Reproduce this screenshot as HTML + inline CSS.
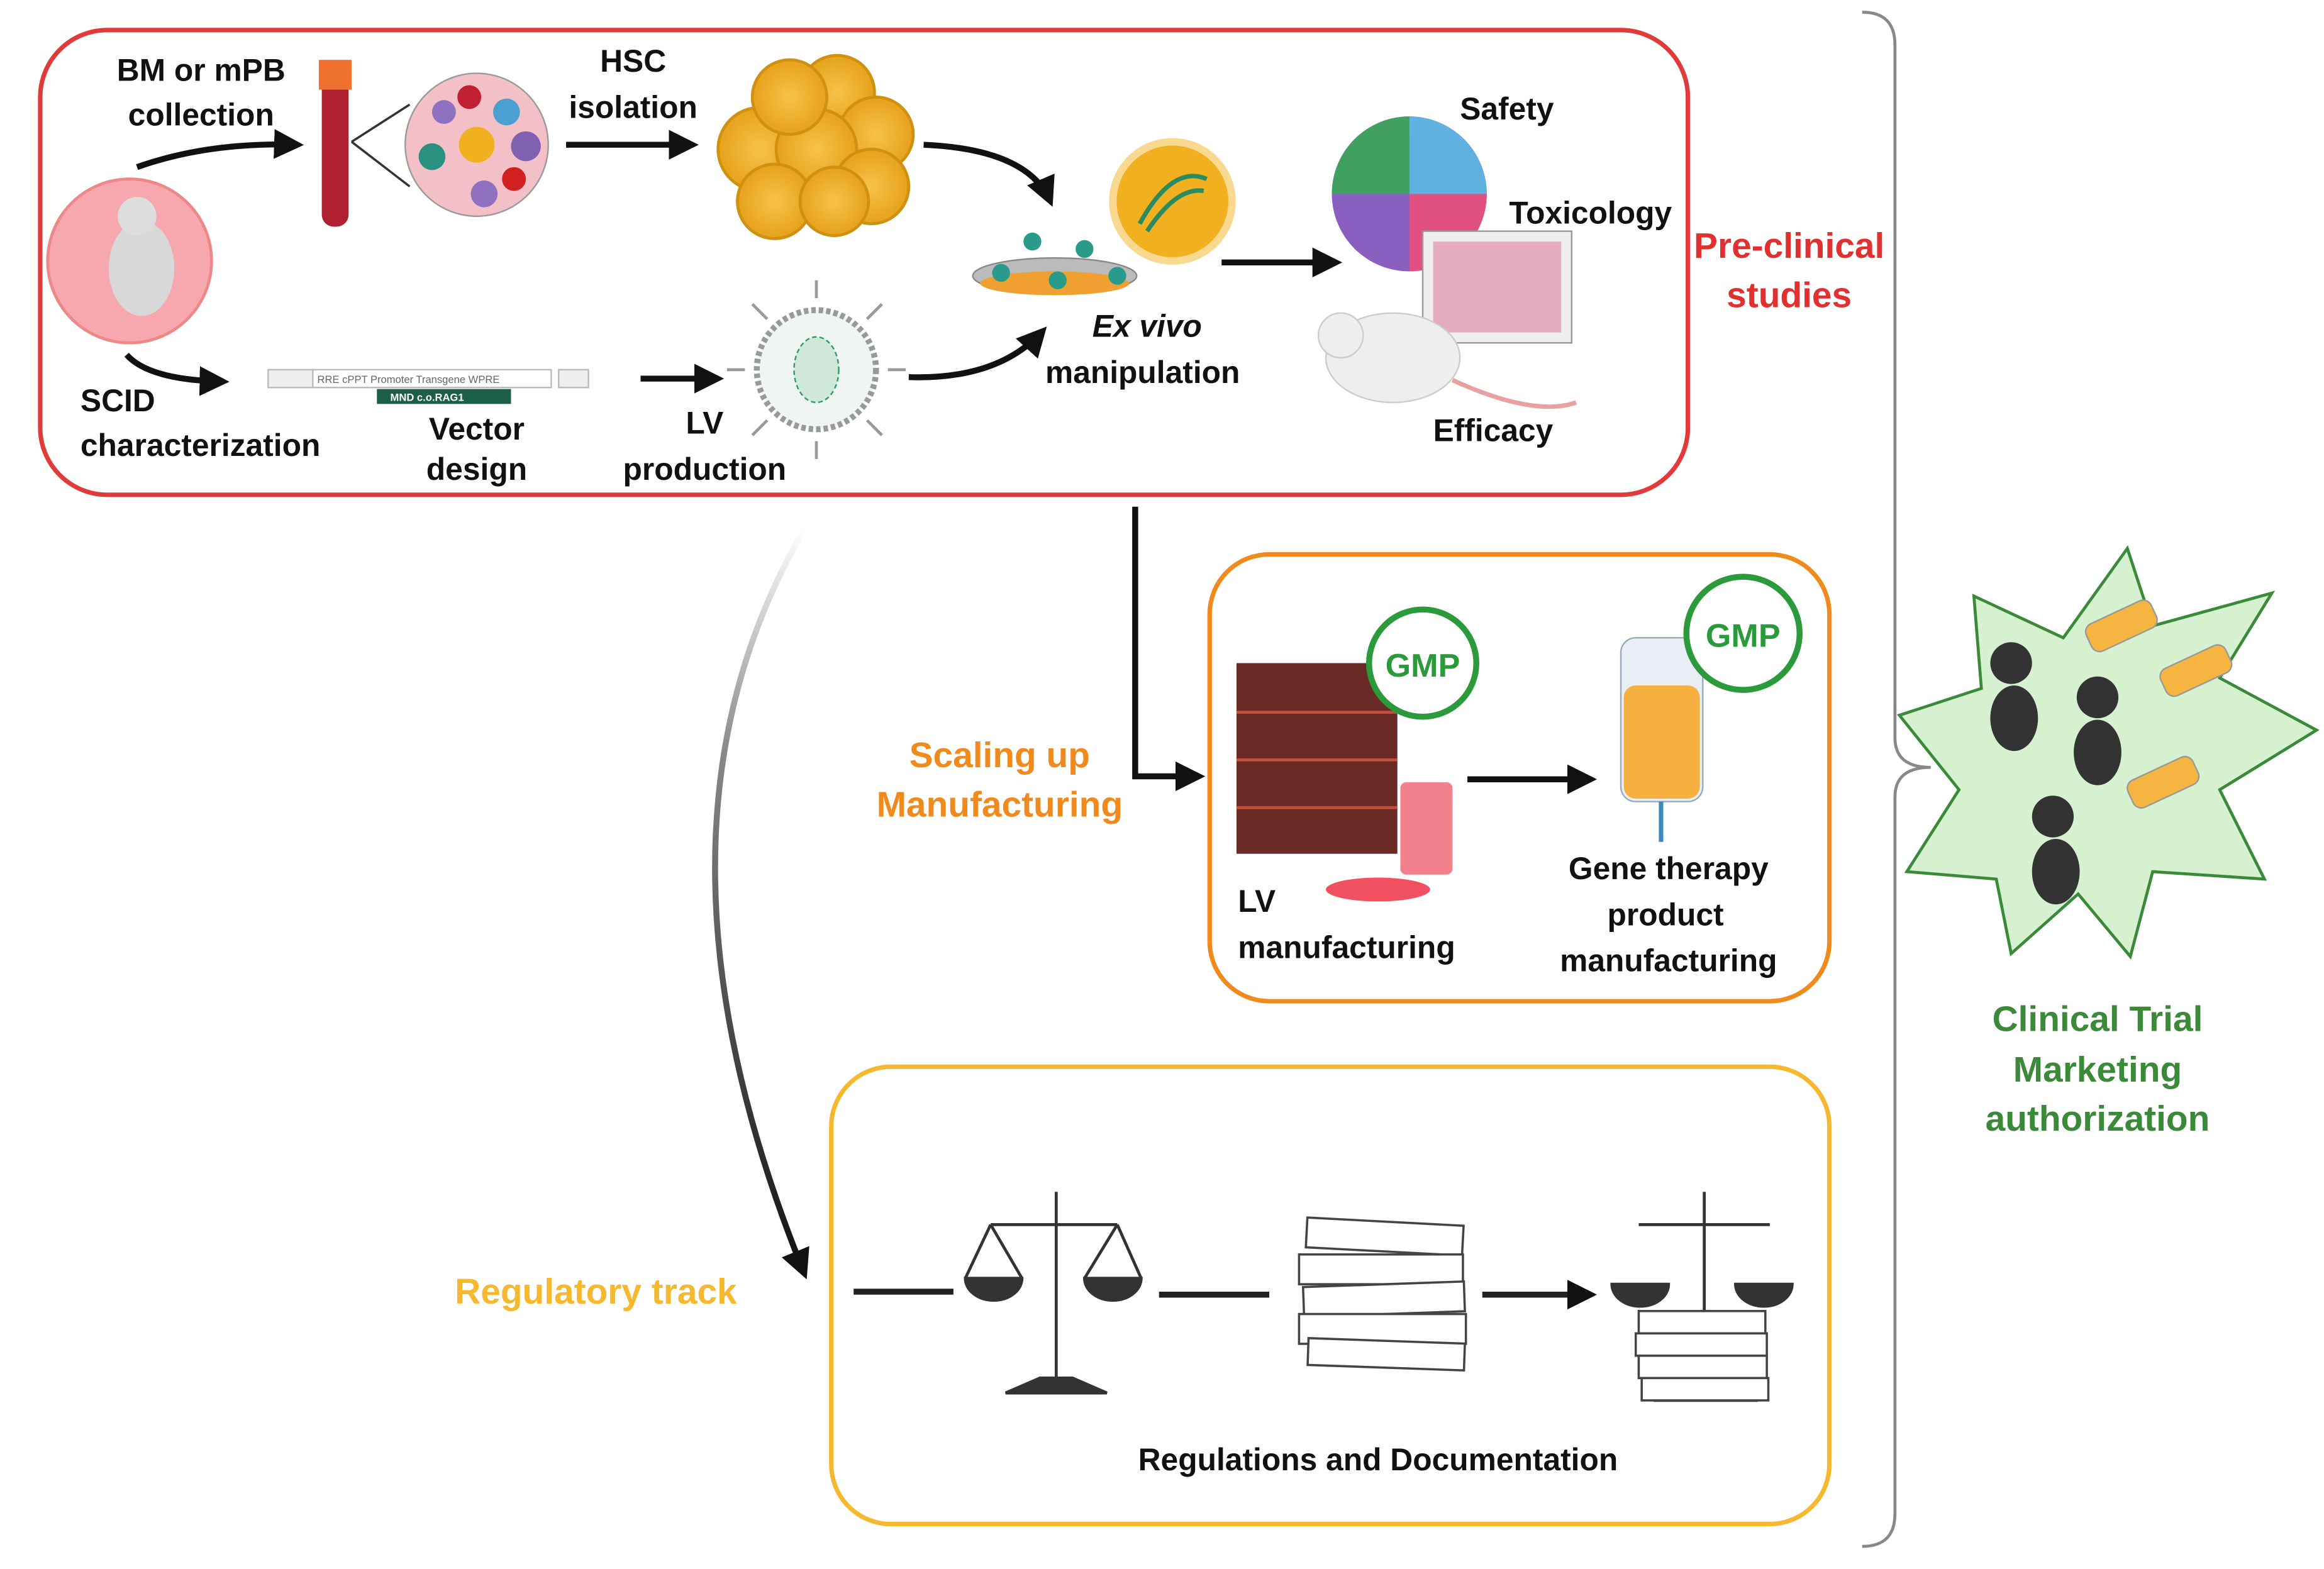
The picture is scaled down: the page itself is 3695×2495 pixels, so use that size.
<!DOCTYPE html>
<html><head><meta charset="utf-8"><style>
html,body{margin:0;padding:0;background:#fff;}
svg{display:block;}
text{font-family:"Liberation Sans",sans-serif;font-weight:bold;}
</style></head><body>
<svg width="3695" height="2495" viewBox="0 0 1560 1053" xmlns="http://www.w3.org/2000/svg">
<defs>
<marker id="ah" viewBox="0 0 10 10" refX="8" refY="5" markerWidth="5" markerHeight="5" orient="auto"><path d="M0,0 L10,5 L0,10 z" fill="#111"/></marker>
<linearGradient id="fade" x1="0" y1="0" x2="0" y2="1"><stop offset="0" stop-color="#fff"/><stop offset="0.3" stop-color="#888"/><stop offset="1" stop-color="#111"/></linearGradient>
<radialGradient id="cellg"><stop offset="0" stop-color="#f7c24a"/><stop offset="1" stop-color="#e6a21a"/></radialGradient>
</defs>
<rect width="1560" height="1053" fill="#fff"/>

<!-- boxes -->
<rect x="27" y="20" width="1106" height="312" rx="45" fill="none" stroke="#e03a3a" stroke-width="3"/>
<rect x="812" y="372" width="416" height="300" rx="40" fill="none" stroke="#f08a1c" stroke-width="3"/>
<rect x="558" y="716" width="670" height="307" rx="40" fill="none" stroke="#f5b82e" stroke-width="3"/>

<!-- bracket -->
<path d="M1250,8 Q1272,8 1272,30 L1272,495 Q1272,515 1296,515 Q1272,515 1272,535 L1272,1016 Q1272,1038 1250,1038" fill="none" stroke="#888" stroke-width="2"/>

<!-- star -->
<polygon points="1428,368 1445,420 1525,398 1490,455 1555,490 1490,530 1520,590 1445,585 1430,642 1395,600 1350,640 1340,590 1280,585 1315,530 1275,480 1330,462 1325,400 1385,428" fill="#d6f1d0" stroke="#3a8a3a" stroke-width="2"/>
<g fill="#333">
<circle cx="1350" cy="445" r="14"/><ellipse cx="1352" cy="482" rx="16" ry="22"/>
<circle cx="1408" cy="468" r="14"/><ellipse cx="1408" cy="505" rx="16" ry="22"/>
<circle cx="1378" cy="548" r="14"/><ellipse cx="1380" cy="585" rx="16" ry="22"/>
</g>
<g fill="#f5b540" stroke="#999" stroke-width="1">
<rect x="1400" y="410" width="48" height="20" rx="6" transform="rotate(-25 1424 420)"/>
<rect x="1450" y="440" width="48" height="20" rx="6" transform="rotate(-25 1474 450)"/>
<rect x="1428" y="515" width="48" height="20" rx="6" transform="rotate(-25 1452 525)"/>
</g>
<g font-size="24" fill="#3a8a3a" text-anchor="middle">
<text x="1408" y="692">Clinical Trial</text>
<text x="1408" y="726">Marketing</text>
<text x="1408" y="759">authorization</text>
</g>

<!-- Pre-clinical labels -->
<g font-size="24" fill="#e03030" text-anchor="middle"><text x="1201" y="173">Pre-clinical</text><text x="1201" y="206">studies</text></g>
<g font-size="21" fill="#111">
<text x="135" y="54" text-anchor="middle">BM or mPB</text>
<text x="135" y="84" text-anchor="middle">collection</text>
<text x="425" y="48" text-anchor="middle">HSC</text>
<text x="425" y="79" text-anchor="middle">isolation</text>
<text x="54" y="276">SCID</text>
<text x="54" y="306">characterization</text>
<text x="320" y="295" text-anchor="middle">Vector</text>
<text x="320" y="322" text-anchor="middle">design</text>
<text x="473" y="291" text-anchor="middle">LV</text>
<text x="473" y="322" text-anchor="middle">production</text>
<text x="770" y="226" text-anchor="middle" font-style="italic">Ex vivo</text>
<text x="767" y="257" text-anchor="middle">manipulation</text>
<text x="980" y="80">Safety</text>
<text x="1013" y="150">Toxicology</text>
<text x="962" y="296">Efficacy</text>
</g>

<!-- baby bubble -->
<circle cx="87" cy="175" r="55" fill="#f7a8ae" stroke="#e88" stroke-width="2"/>
<ellipse cx="95" cy="180" rx="22" ry="32" fill="#d8d8d8"/><circle cx="92" cy="145" r="13" fill="#ddd"/>
<!-- tube -->
<rect x="216" y="42" width="18" height="110" rx="8" fill="#b02030"/><rect x="214" y="40" width="22" height="20" fill="#f07030"/>
<line x1="236" y1="95" x2="275" y2="70" stroke="#333" stroke-width="1.5"/><line x1="236" y1="95" x2="275" y2="125" stroke="#333" stroke-width="1.5"/>
<circle cx="320" cy="97" r="48" fill="#f4c0c8" stroke="#999"/>
<circle cx="320" cy="97" r="12" fill="#f0b020"/><circle cx="340" cy="75" r="9" fill="#4aa0d0"/><circle cx="353" cy="98" r="10" fill="#8060b0"/><circle cx="298" cy="75" r="8" fill="#9070c0"/><circle cx="290" cy="105" r="9" fill="#2a9080"/><circle cx="325" cy="130" r="9" fill="#9070c0"/><circle cx="315" cy="65" r="8" fill="#c02030"/><circle cx="345" cy="120" r="8" fill="#d02020"/>
<!-- cells cluster -->
<g fill="url(#cellg)" stroke="#d09010" stroke-width="2">
<circle cx="510" cy="100" r="28"/><circle cx="562" cy="62" r="25"/><circle cx="588" cy="90" r="25"/><circle cx="548" cy="100" r="27"/><circle cx="585" cy="125" r="25"/><circle cx="520" cy="135" r="25"/><circle cx="560" cy="135" r="23"/><circle cx="530" cy="65" r="25"/>
</g>
<!-- dna bubble -->
<circle cx="787" cy="135" r="40" fill="#f0b020" stroke="#f9d890" stroke-width="5"/>
<path d="M765,150 Q787,110 810,120 M770,155 Q790,125 808,128" stroke="#2a8a60" stroke-width="3" fill="none"/>
<!-- dish -->
<ellipse cx="708" cy="185" rx="55" ry="12" fill="#bbb" stroke="#888"/><ellipse cx="708" cy="190" rx="50" ry="8" fill="#f0a030"/>
<g fill="#2a9a8a"><circle cx="693" cy="162" r="6"/><circle cx="728" cy="167" r="6"/><circle cx="672" cy="183" r="6"/><circle cx="710" cy="188" r="6"/><circle cx="750" cy="185" r="6"/></g>
<!-- pie -->
<circle cx="946" cy="130" r="52" fill="#8a5fc0"/>
<path d="M946,130 L998,130 A52,52 0 0,1 946,182 z" fill="#e05080"/><path d="M946,130 L946,78 A52,52 0 0,1 998,130z" fill="#60b0e0"/><path d="M946,130 L894,130 A52,52 0 0,1 946,78z" fill="#40a060"/>
<!-- plate -->
<rect x="955" y="155" width="100" height="75" fill="#eee" stroke="#999"/>
<rect x="962" y="162" width="86" height="61" fill="#e080a0" opacity="0.6"/>
<!-- mouse -->
<ellipse cx="935" cy="240" rx="45" ry="30" fill="#eee" stroke="#ccc"/><circle cx="900" cy="225" r="15" fill="#eee" stroke="#ccc"/>
<path d="M975,255 Q1030,280 1058,270" stroke="#e8a0a0" stroke-width="3" fill="none"/>
<!-- vector -->
<rect x="180" y="248" width="30" height="12" fill="#eee" stroke="#bbb"/>
<rect x="210" y="248" width="160" height="12" fill="#fff" stroke="#bbb"/>
<g font-size="7" font-weight="normal" fill="#666"><text x="213" y="257" style="font-weight:normal">RRE cPPT Promoter Transgene WPRE</text></g>
<rect x="253" y="261" width="90" height="10" fill="#1d5e4a"/>
<text x="262" y="269" font-size="7" fill="#fff">MND    c.o.RAG1</text>
<rect x="375" y="248" width="20" height="12" fill="#eee" stroke="#bbb"/>
<!-- virus -->
<circle cx="548" cy="248" r="40" fill="#eef5f2" stroke="#999" stroke-width="4" stroke-dasharray="3 2"/>
<ellipse cx="548" cy="248" rx="15" ry="22" fill="#cfe8da" stroke="#2a9a6a" stroke-dasharray="3 2"/>
<g stroke="#999" stroke-width="2"><line x1="548" y1="200" x2="548" y2="188"/><line x1="548" y1="296" x2="548" y2="308"/><line x1="500" y1="248" x2="488" y2="248"/><line x1="596" y1="248" x2="608" y2="248"/><line x1="515" y1="214" x2="505" y2="204"/><line x1="582" y1="282" x2="592" y2="292"/><line x1="515" y1="282" x2="505" y2="292"/><line x1="582" y1="214" x2="592" y2="204"/></g>

<!-- arrows in red box -->
<g stroke="#111" stroke-width="4" fill="none" marker-end="url(#ah)">
<path d="M92,112 Q140,95 200,97"/>
<line x1="380" y1="97" x2="465" y2="97"/>
<path d="M620,97 Q690,100 705,135"/>
<line x1="820" y1="176" x2="897" y2="176"/>
<path d="M85,238 Q100,255 150,256"/>
<line x1="430" y1="254" x2="482" y2="254"/>
<path d="M610,253 Q670,255 700,222"/>
</g>

<!-- Scaling up -->
<g font-size="24" fill="#f08a1c" text-anchor="middle"><text x="671" y="515">Scaling up</text><text x="671" y="548">Manufacturing</text></g>
<path d="M762,340 L762,521 L805,521" stroke="#111" stroke-width="4" fill="none" marker-end="url(#ah)"/>
<rect x="830" y="445" width="108" height="128" fill="#6a2a25"/>
<g stroke="#c05040" stroke-width="2"><line x1="830" y1="478" x2="938" y2="478"/><line x1="830" y1="510" x2="938" y2="510"/><line x1="830" y1="542" x2="938" y2="542"/></g>
<rect x="940" y="525" width="35" height="62" rx="4" fill="#f06070" opacity="0.8"/>
<ellipse cx="925" cy="597" rx="35" ry="8" fill="#f05060"/>
<circle cx="955" cy="445" r="36" fill="#fff" stroke="#2a9a3a" stroke-width="4"/>
<text x="955" y="454" font-size="22" fill="#2a9a3a" text-anchor="middle">GMP</text>
<line x1="985" y1="523" x2="1068" y2="523" stroke="#111" stroke-width="4" marker-end="url(#ah)"/>
<rect x="1088" y="428" width="55" height="110" rx="10" fill="#e8eef4" stroke="#9ab"/>
<rect x="1090" y="460" width="51" height="76" rx="8" fill="#f5b040"/>
<line x1="1115" y1="538" x2="1115" y2="565" stroke="#3a8ac0" stroke-width="3"/>
<circle cx="1170" cy="425" r="38" fill="#fff" stroke="#2a9a3a" stroke-width="4"/>
<text x="1170" y="434" font-size="22" fill="#2a9a3a" text-anchor="middle">GMP</text>
<g font-size="21" fill="#111">
<text x="831" y="612">LV</text><text x="831" y="643">manufacturing</text>
<text x="1120" y="590" text-anchor="middle">Gene therapy</text>
<text x="1118" y="621" text-anchor="middle">product</text>
<text x="1120" y="652" text-anchor="middle">manufacturing</text>
</g>

<!-- regulatory -->
<path d="M540,355 Q420,560 540,855" stroke="url(#fade)" stroke-width="4" fill="none" marker-end="url(#ah)"/>
<text x="400" y="875" font-size="24" fill="#f5b82e" text-anchor="middle">Regulatory track</text>
<g stroke="#222" stroke-width="4"><line x1="573" y1="867" x2="640" y2="867"/><line x1="778" y1="869" x2="852" y2="869"/></g>
<line x1="995" y1="869" x2="1068" y2="869" stroke="#222" stroke-width="4" marker-end="url(#ah)"/>
<g fill="#333" stroke="#333" stroke-width="2">
<line x1="709" y1="800" x2="709" y2="930"/><line x1="665" y1="822" x2="750" y2="822"/>
<path d="M648,858 A18,14 0 0,0 686,858z"/><path d="M728,858 A18,14 0 0,0 766,858z"/>
<line x1="665" y1="822" x2="648" y2="858"/><line x1="665" y1="822" x2="686" y2="858"/><line x1="750" y1="822" x2="728" y2="858"/><line x1="750" y1="822" x2="766" y2="858"/>
<path d="M675,935 L743,935 L720,925 L698,925z"/>
<line x1="1144" y1="800" x2="1144" y2="935"/><line x1="1100" y1="822" x2="1188" y2="822"/>
<path d="M1082,862 A18,14 0 0,0 1120,862z"/><path d="M1165,862 A18,14 0 0,0 1203,862z"/>
<path d="M1110,940 L1180,940 L1158,930 L1132,930z"/>
</g>
<g fill="#fff" stroke="#444" stroke-width="1.5">
<rect x="877" y="820" width="105" height="20" transform="rotate(3 930 830)"/><rect x="872" y="842" width="110" height="20"/><rect x="875" y="862" width="108" height="20" transform="rotate(-2 930 872)"/><rect x="872" y="882" width="112" height="20"/><rect x="878" y="900" width="105" height="18" transform="rotate(2 930 910)"/>
<rect x="1100" y="880" width="85" height="15"/><rect x="1098" y="895" width="88" height="15"/><rect x="1100" y="910" width="86" height="15"/><rect x="1102" y="925" width="85" height="15"/>
</g>
<text x="925" y="987" font-size="21" fill="#111" text-anchor="middle">Regulations and Documentation</text>
</svg>
</body></html>
